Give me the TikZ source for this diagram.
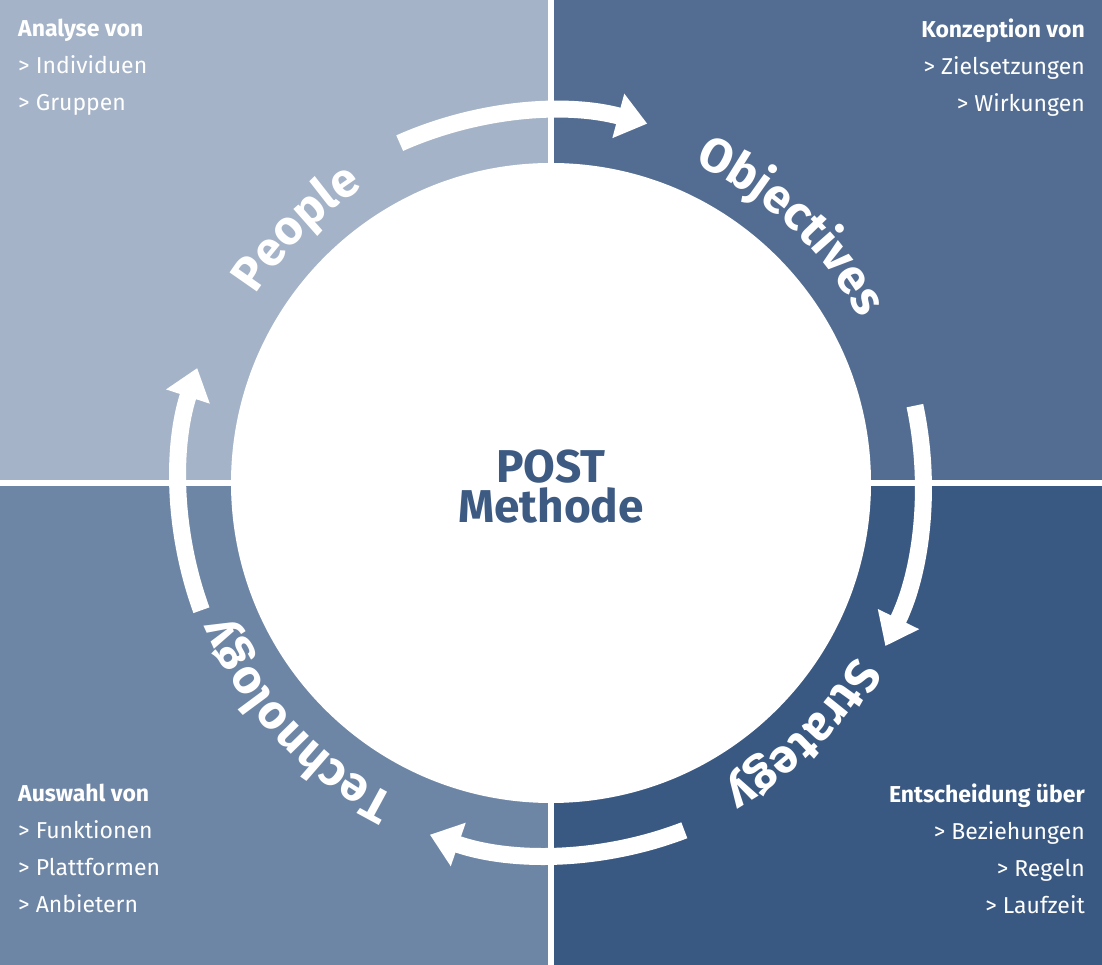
\documentclass[tikz,border=0pt]{standalone}
\usepackage{fontspec}
\setmainfont{Fira Sans}
\usetikzlibrary{arrows.meta,decorations.text}
\definecolor{qtl}{HTML}{A4B3C7}
\definecolor{qtr}{HTML}{536D92}
\definecolor{qbl}{HTML}{6E86A6}
\definecolor{qbr}{HTML}{3A5982}
\definecolor{ptext}{HTML}{3D5A82}
\newcommand{\ringfont}{\fontsize{48}{48}\bfseries\selectfont}
\tikzset{
  x=1pt,y=1pt,
  corner/.style={text=white,font=\fontsize{23}{37}\selectfont,inner sep=0pt},
  ringarrow/.style={white,line width=17pt,-{Triangle[length=30pt,width=44pt]}},
  ringtext/.style={decorate,decoration={text along path,text align=center,
     text color=white,text={|\ringfont|#1}}}
}
\begin{document}
\begin{tikzpicture}
\useasboundingbox (0,0) rectangle (1102,965);
\fill[white] (0,0) rectangle (1102,965);
\fill[qtl] (0,485) rectangle (548,965);
\fill[qtr] (554,485) rectangle (1102,965);
\fill[qbl] (0,0) rectangle (548,479);
\fill[qbr] (554,0) rectangle (1102,479);
\coordinate (C) at (551,482);
\fill[white] (C) circle[radius=320];
\node[text=ptext,font=\fontsize{46}{46}\bfseries\selectfont,align=center] (post) at (551,478) {POST\\[-6pt]Methode};
% corner texts
\node[corner,anchor=north west,align=left] (tl) at (18,946) {\textbf{Analyse von}\\> Individuen\\> Gruppen};
\node[corner,anchor=north east,align=right] (tr) at (1085,946) {\textbf{Konzeption von}\\> Zielsetzungen\\> Wirkungen};
\node[corner,anchor=north west,align=left] (bl) at (18,181) {\textbf{Auswahl von}\\> Funktionen\\> Plattformen\\> Anbietern};
\node[corner,anchor=north east,align=right] (br) at (1085,181) {\textbf{Entscheidung über}\\> Beziehungen\\> Regeln\\> Laufzeit};
% arrows
\draw[ringarrow] (C) ++(114:372) arc[start angle=114,end angle=75,radius=372];
\draw[ringarrow] (C) ++(12:372) arc[start angle=12,end angle=-26,radius=372];
\draw[ringarrow] (C) ++(-69:372) arc[start angle=-69,end angle=-109,radius=372];
\draw[ringarrow] (C) ++(-160:372) arc[start angle=-160,end angle=-198,radius=372];
% ring texts
\path[ringtext=People] (C) ++(175:350) arc[start angle=175,end angle=95,radius=350];
\path[ringtext=Objectives] (C) ++(92:350) arc[start angle=92,end angle=2,radius=350];
\path[ringtext=Strategy] (C) ++(-5:350) arc[start angle=-5,end angle=-85,radius=350];
\path[ringtext=Technology] (C) ++(-92:350) arc[start angle=-92,end angle=-182,radius=350];
\end{tikzpicture}
\end{document}
